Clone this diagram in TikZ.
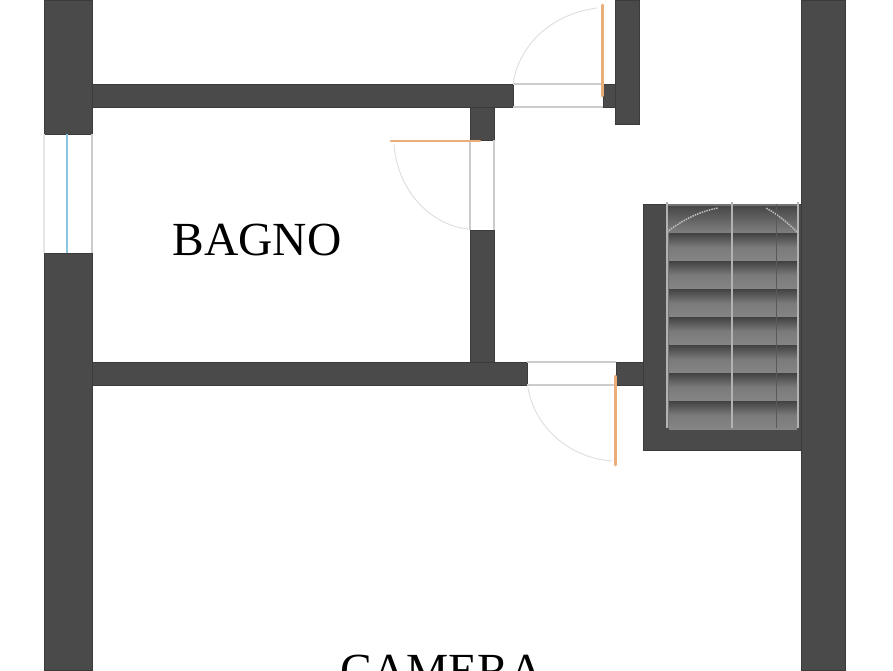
\documentclass[tikz,border=0pt]{standalone}
\usepackage{fontspec}
\setmainfont{Liberation Serif}

\begin{document}
\begin{tikzpicture}[x=1pt,y=-1pt]
	\tikzstyle{wall} = [fill=wallgray,draw=wallgray!80!black,line width=.6pt]
	\tikzstyle{leaf} = [draw=leaforange,line width=2.6pt,line cap=round]
	\tikzstyle{swing} = [draw=black!12,line width=1pt]
	\tikzstyle{jamb} = [draw=black!20,line width=1.2pt]
	\tikzstyle{label} = [font=\fontsize{47.5}{47.5}\selectfont,inner sep=0pt,text=black]
	\definecolor{wallgray}{HTML}{4A4A4A}
	\definecolor{leaforange}{HTML}{E8AD78}
	\definecolor{glassblue}{HTML}{8CC4E2}
	\useasboundingbox (0,0) rectangle (893,670);
	\clip (0,0) rectangle (893,670);
	% outer walls
	\fill[wall] (44,0) rectangle (92,134);
	\fill[wall] (44,253) rectangle (92,670);
	\fill[wall] (801,0) rectangle (845,670);
	% inner walls
	\fill[wall] (92,84) rectangle (513,107);
	\fill[wall] (470,107) rectangle (494,140);
	\fill[wall] (470,230) rectangle (494,362);
	\fill[wall] (92,362) rectangle (527,385);
	\fill[wall] (616,362) rectangle (643,385);
	\fill[wall] (615,0) rectangle (639,124);
	\fill[wall] (603,84) rectangle (615,107);
	% stair well
	\fill[wall] (643,204) rectangle (801,450);
	\fill[black!55] (666,204) rectangle (799,428);
	\shade[top color=black!72,bottom color=black!50] (668,206) rectangle (797,233);
	% treads
	\foreach \i in {0,...,6}
		\shade[top color=black!74,bottom color=black!48,middle color=black!52] (669,233+\i*28) rectangle (797,233+\i*28+28);
	% landing
	\draw[black!25,densely dotted,line width=1.5pt] (667,232) .. controls (685,218) and (702,211) .. (718,208);
	\draw[black!25,densely dotted,line width=1.5pt] (797,232) .. controls (787,222) and (777,214) .. (766,208);
	% stair rails
	\foreach \x in {667,732,798}
		\draw[black!30,line width=1.4pt] (\x,202) -- (\x,428);
	\draw[black!65,line width=.8pt] (776,204) -- (776,428);
	% window
	\draw[jamb,black!10] (44,134) -- (44,253);
	\draw[jamb] (92,134) -- (92,253);
	\draw[glassblue,line width=2.4pt] (67,134) -- (67,253);
	% door openings
	\draw[jamb] (513,84) -- (603,84);
	\draw[jamb] (513,107) -- (603,107);
	\draw[jamb] (470,140) -- (470,230);
	\draw[jamb] (494,140) -- (494,230);
	\draw[jamb] (527,362) -- (616,362);
	\draw[jamb] (527,385) -- (616,385);
	% door swings
	\draw[swing] (513,84) .. controls (519,44) and (552,14) .. (597,8);
	\draw[swing] (394,144) .. controls (397,190) and (430,225) .. (468,229);
	\draw[swing] (528,388) .. controls (535,428) and (570,458) .. (612,461);
	% door leaves
	\draw[leaf] (602.5,5) -- (602.5,96);
	\draw[leaf] (391,141) -- (480,141);
	\draw[leaf] (615.5,376) -- (615.5,465);
	% room names
	\node[label] (bagno) at (257,240) {BAGNO};
	\node[label] (camera) at (442,671) {CAMERA};
\end{tikzpicture}
\end{document}
